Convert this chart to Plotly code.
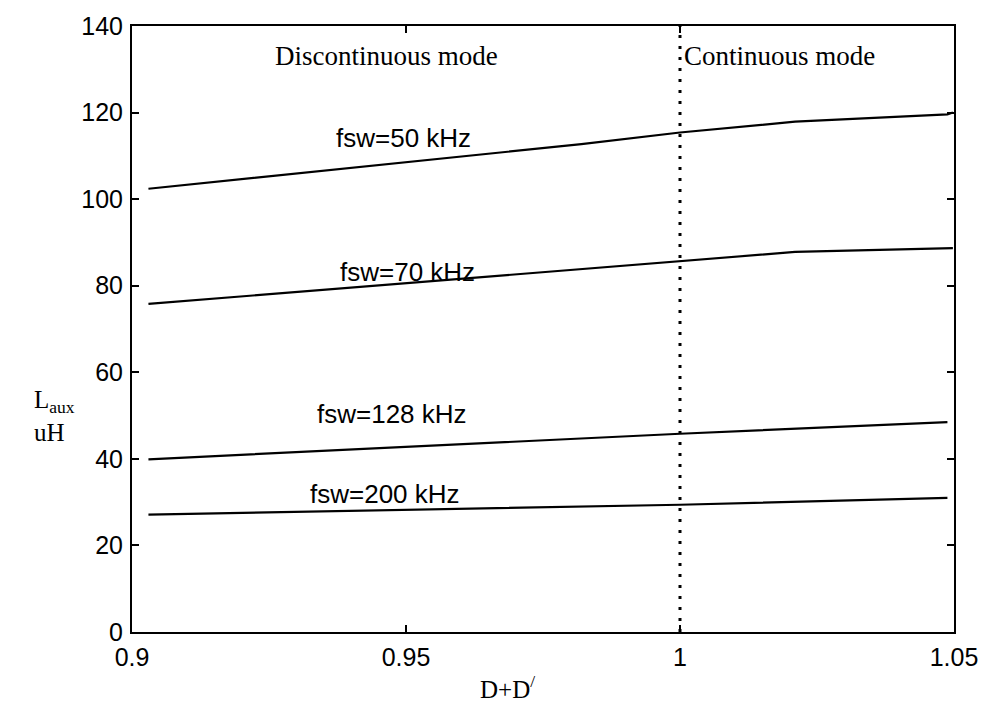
import plotly.graph_objects as go

# ---- data ----
x_50 = [0.903, 0.982, 1.0, 1.021, 1.0488, 1.0498]
y_50 = [102.4, 112.7, 115.4, 117.9, 119.6, 120.0]

x_70 = [0.903, 0.982, 1.0, 1.021, 1.0498]
y_70 = [75.8, 83.8, 85.6, 87.8, 88.7]

x_128 = [0.903, 1.0, 1.0488]
y_128 = [39.9, 45.8, 48.5]

x_200 = [0.903, 1.0, 1.0488]
y_200 = [27.1, 29.4, 31.0]

boundary_x = [1.0, 1.0]
boundary_y = [0, 140]

curve_labels = ["fsw=50 kHz", "fsw=70 kHz", "fsw=128 kHz", "fsw=200 kHz"]
label_x = [0.9495, 0.9502, 0.9474, 0.9462]
label_y = [114.1, 83.1, 50.3, 31.9]

x_ticks = [0.9, 0.95, 1.0, 1.05]
x_tick_text = ["0.9", "0.95", "1", "1.05"]
y_ticks = [0, 20, 40, 60, 80, 100, 120, 140]

fig = go.Figure()
line_style = dict(color="black", width=2.2)
for xs, ys in [(x_50, y_50), (x_70, y_70), (x_128, y_128), (x_200, y_200)]:
    fig.add_trace(go.Scatter(x=xs, y=ys, mode="lines", line=line_style,
                             showlegend=False, hoverinfo="skip"))

fig.add_trace(go.Scatter(x=boundary_x, y=boundary_y, mode="lines",
                         line=dict(color="black", width=3, dash="3px,8px"),
                         showlegend=False, hoverinfo="skip"))

tick_font = dict(family="Liberation Sans, Arial, sans-serif", size=25, color="black")
label_font = dict(family="Liberation Sans, Arial, sans-serif", size=26, color="black")
serif = dict(family="Liberation Serif, Times New Roman, serif", size=27, color="black")
serif_small = dict(family="Liberation Serif, Times New Roman, serif", size=25, color="black")

for t, lx, ly in zip(curve_labels, label_x, label_y):
    fig.add_annotation(x=lx, y=ly, text=t, showarrow=False, font=label_font,
                       xanchor="center", yanchor="middle")

fig.add_annotation(x=0.9465, y=133.1, text="Discontinuous mode", showarrow=False,
                   font=serif, xanchor="center", yanchor="middle")
fig.add_annotation(x=1.0004, y=133.1, text="Continuous mode", showarrow=False,
                   font=serif, xanchor="left", yanchor="middle")

fig.add_annotation(xref="paper", yref="paper", x=-0.094, y=0.356,
                   text="L<sub>aux</sub><br>uH", showarrow=False, font=serif_small,
                   xanchor="center", yanchor="middle", align="left")
fig.add_annotation(xref="paper", yref="paper", x=0.457, y=-0.09,
                   text="D+D<sup>/</sup>", showarrow=False, font=serif_small,
                   xanchor="center", yanchor="middle")

axis_common = dict(showgrid=False, zeroline=False, showline=True, linecolor="black",
                   linewidth=2, mirror="allticks", ticks="inside", ticklen=7,
                   tickwidth=1.5, tickcolor="black", tickfont=tick_font)

fig.update_xaxes(range=[0.9, 1.05], tickvals=x_ticks, ticktext=x_tick_text,
                 ticklabelstandoff=2, **axis_common)
fig.update_yaxes(range=[0, 140], tickvals=y_ticks, ticklabelstandoff=2, **axis_common)

fig.update_layout(width=992, height=701, margin=dict(l=132, r=38, t=22, b=69),
                  plot_bgcolor="white", paper_bgcolor="white")

fig.write_html("out.html")
